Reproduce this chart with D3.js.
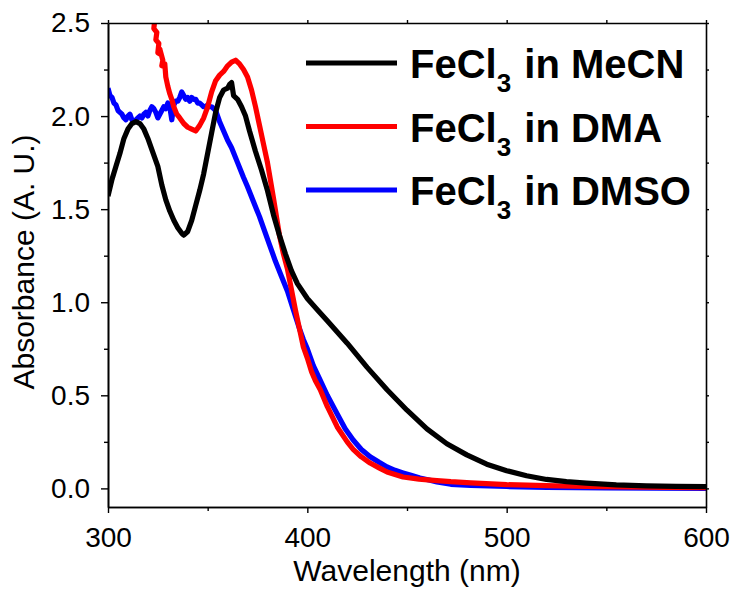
<!DOCTYPE html>
<html>
<head>
<meta charset="utf-8">
<script src="https://cdn.jsdelivr.net/npm/d3@7"></script>
<style>
  body { margin: 0; background: #fff; }
  svg { display: block; font-family: "Liberation Sans", Arial, sans-serif; }
</style>
</head>
<body>
<div id="chart"></div>
<script>
// MeCN (black)
const mecnWl = [300, 302, 304, 306, 308, 310, 312, 314, 316, 318, 320, 322, 325, 327, 329, 331, 333, 335, 337, 338,
  340, 342, 344, 346, 348, 350, 352, 354, 356, 358, 360, 361, 362, 363, 365, 367, 369, 371, 374, 377,
  380, 383, 386, 389, 392, 395, 400, 405, 410, 420, 430, 440, 450, 460, 470, 480, 490, 500, 510, 520,
  530, 540, 555, 570, 585, 600];
const mecnAbs = [1.57, 1.66, 1.73, 1.80, 1.88, 1.93, 1.96, 1.97, 1.96, 1.93, 1.88, 1.82, 1.73, 1.63, 1.55, 1.49, 1.44, 1.40, 1.37, 1.36,
  1.38, 1.44, 1.52, 1.60, 1.69, 1.80, 1.91, 2.02, 2.10, 2.14, 2.15, 2.17, 2.18, 2.11, 2.09, 2.05, 2.00, 1.92, 1.81, 1.71,
  1.60, 1.47, 1.36, 1.26, 1.17, 1.10, 1.02, 0.96, 0.90, 0.78, 0.65, 0.53, 0.42, 0.32, 0.24, 0.18, 0.13, 0.095, 0.068, 0.048,
  0.036, 0.028, 0.019, 0.014, 0.011, 0.009];

// DMA (red) - noisy band at the start
const dmaWl = [322, 323.5, 323, 324.5, 324, 325.5, 325, 326.5, 326, 327.5, 327, 328.5, 329, 330, 331, 332, 333, 334.5, 336, 338,
  340, 342, 344, 346, 348, 350, 352, 354, 356, 358, 360, 362, 364, 366, 368, 370, 372, 374, 376, 378,
  380, 383, 386, 388, 390, 392, 394, 396, 398, 400, 402, 404, 406.5, 410, 415, 420, 423, 427, 431.5, 436,
  440, 448, 456, 465, 472, 482, 500, 520, 540, 560, 580, 600];
const dmaAbs = [2.62, 2.52, 2.47, 2.45, 2.41, 2.39, 2.34, 2.33, 2.36, 2.30, 2.27, 2.28, 2.21, 2.16, 2.12, 2.09, 2.05, 2.01, 1.99, 1.96,
  1.94, 1.93, 1.92, 1.95, 1.99, 2.05, 2.13, 2.19, 2.22, 2.24, 2.27, 2.29, 2.30, 2.28, 2.25, 2.21, 2.14, 2.05, 1.95, 1.85,
  1.75, 1.56, 1.36, 1.26, 1.18, 1.07, 0.96, 0.86, 0.76, 0.70, 0.63, 0.58, 0.53, 0.44, 0.33, 0.25, 0.21, 0.17, 0.136, 0.11,
  0.088, 0.061, 0.05, 0.042, 0.036, 0.030, 0.020, 0.015, 0.010, 0.008, 0.005, 0.004];

// DMSO (blue)
const dmsoWl = [300, 301, 302, 303, 304, 305, 306, 307, 308, 309, 310, 311, 312, 313, 314, 315, 316, 317, 318, 319,
  320, 321, 322, 323, 324, 325, 326, 327, 328, 329, 330, 331, 332, 333, 334, 335, 336, 337, 338, 339,
  340, 341, 342, 343, 344, 345, 346, 347, 348, 349, 350, 351, 352, 353, 354, 355, 356, 358, 360, 362,
  365, 368, 370, 373, 376, 378, 381, 384, 387, 390, 393, 396, 398, 400, 403, 406.5, 410, 415, 419, 423,
  427, 431.5, 436, 440, 444, 448, 452, 456.5, 461, 465, 472, 482, 500, 520, 550, 600];
const dmsoAbs = [2.15, 2.11, 2.10, 2.07, 2.06, 2.03, 2.02, 2.01, 1.99, 1.98, 2.00, 2.01, 1.98, 1.97, 1.98, 1.99, 2.00, 1.99, 2.01, 2.02,
  2.00, 2.03, 2.05, 2.04, 2.02, 1.99, 2.01, 2.03, 2.05, 2.04, 2.07, 2.05, 1.98, 2.06, 2.08, 2.08, 2.10, 2.13, 2.11, 2.09,
  2.10, 2.08, 2.10, 2.09, 2.09, 2.07, 2.07, 2.06, 2.05, 2.05, 2.06, 2.05, 2.05, 2.04, 2.03, 2.00, 1.97, 1.92, 1.87, 1.83,
  1.75, 1.67, 1.62, 1.54, 1.46, 1.40, 1.31, 1.22, 1.14, 1.06, 0.96, 0.86, 0.80, 0.75, 0.66, 0.58, 0.50, 0.40, 0.32, 0.26,
  0.21, 0.17, 0.14, 0.115, 0.097, 0.083, 0.070, 0.056, 0.045, 0.035, 0.022, 0.016, 0.010, 0.005, 0.002, 0.000];

const xTicks = [300, 400, 500, 600];
const yTicks = [0.0, 0.5, 1.0, 1.5, 2.0, 2.5];
const xMinorTicks = [350, 450, 550];
const yMinorTicks = [0.25, 0.75, 1.25, 1.75, 2.25];

const seriesNames = ["in MeCN", "in DMA", "in DMSO"];
const seriesColors = ["#000000", "#ff0000", "#0000ff"];

const width = 733, height = 589;
const margin = { left: 108, right: 27, top: 23, bottom: 82 };

const svg = d3.select("#chart").append("svg")
  .attr("width", width)
  .attr("height", height);

const xScale = d3.scaleLinear().domain([300, 600]).range([margin.left, width - margin.right]);
const yScale = d3.scaleLinear().domain([-0.1, 2.5]).range([height - margin.bottom, margin.top]);

svg.append("defs").append("clipPath").attr("id", "plotclip")
  .append("rect")
  .attr("x", xScale(300)).attr("y", yScale(2.5))
  .attr("width", xScale(600) - xScale(300))
  .attr("height", yScale(-0.1) - yScale(2.5));

// curves
const line = d3.line().x(d => xScale(d[0])).y(d => yScale(d[1]));
const series = [
  d3.zip(mecnWl, mecnAbs),
  d3.zip(dmaWl, dmaAbs),
  d3.zip(dmsoWl, dmsoAbs)
];
const plot = svg.append("g").attr("clip-path", "url(#plotclip)");
// blue first, then red, black on top
[2, 1, 0].forEach(i => {
  plot.append("path")
    .datum(series[i])
    .attr("fill", "none")
    .attr("stroke", seriesColors[i])
    .attr("stroke-width", 5.2)
    .attr("stroke-linejoin", "round")
    .attr("d", line);
});

// axes
const fmt = d3.format(".1f");
const xAxis = d3.axisBottom(xScale).tickValues(xTicks).tickFormat(d3.format("d")).tickSizeInner(6).tickSizeOuter(0).tickPadding(14);
const yAxis = d3.axisLeft(yScale).tickValues(yTicks).tickFormat(fmt).tickSizeInner(7).tickSizeOuter(0).tickPadding(11);

svg.append("g").attr("class", "axis xaxis")
  .attr("transform", "translate(0," + yScale(-0.1) + ")")
  .call(xAxis);
svg.append("g").attr("class", "axis yaxis")
  .attr("transform", "translate(" + xScale(300) + ",0)")
  .call(yAxis);

svg.append("g").attr("transform", "translate(0," + yScale(-0.1) + ")")
  .call(d3.axisBottom(xScale).tickValues(xMinorTicks).tickFormat("").tickSizeInner(4).tickSizeOuter(0));
svg.append("g").attr("transform", "translate(" + xScale(300) + ",0)")
  .call(d3.axisLeft(yScale).tickValues(yMinorTicks).tickFormat("").tickSizeInner(4).tickSizeOuter(0));

// mirror axes (top, right)
svg.append("g").attr("transform", "translate(0," + yScale(2.5) + ")")
  .call(d3.axisTop(xScale).tickValues(xTicks.concat(xMinorTicks)).tickFormat("").tickSizeInner(3).tickSizeOuter(0));
svg.append("g").attr("transform", "translate(" + xScale(600) + ",0)")
  .call(d3.axisRight(yScale).tickValues(yTicks.concat(yMinorTicks)).tickFormat("").tickSizeInner(3).tickSizeOuter(0));

svg.selectAll(".domain").attr("stroke", "#000").attr("stroke-width", 1.6);
svg.selectAll(".tick line").attr("stroke", "#000").attr("stroke-width", 1.4);
svg.selectAll(".axis text")
  .attr("fill", "#000")
  .style("font-size", "28px")
  .style("font-family", "'Liberation Sans', Arial, sans-serif");

// axis titles
svg.append("text")
  .attr("class", "xlabel")
  .attr("x", (xScale(300) + xScale(600)) / 2)
  .attr("y", 581)
  .style("text-anchor", "middle")
  .style("font-size", "30px")
  .text("Wavelength (nm)");

svg.append("text")
  .attr("class", "ylabel")
  .attr("transform", "translate(34," + 262 + ") rotate(-90)")
  .style("text-anchor", "middle")
  .style("font-size", "30px")
  .text("Absorbance (A. U.)");

// legend
const legend = svg.append("g").attr("class", "legend");
seriesNames.forEach((name, i) => {
  const ly = 63 + i * 63.5;
  legend.append("line")
    .attr("x1", 306).attr("x2", 397)
    .attr("y1", ly).attr("y2", ly)
    .attr("stroke", seriesColors[i])
    .attr("stroke-width", 5);
  const t = legend.append("text")
    .attr("x", 410)
    .attr("y", ly + 15)
    .style("font-size", "40px")
    .style("font-weight", "bold");
  t.append("tspan").text("FeCl");
  t.append("tspan").attr("dy", 14).style("font-size", "26px").text("3");
  t.append("tspan").attr("dy", -14).attr("dx", 2).text(" " + name);
});
</script>
</body>
</html>
